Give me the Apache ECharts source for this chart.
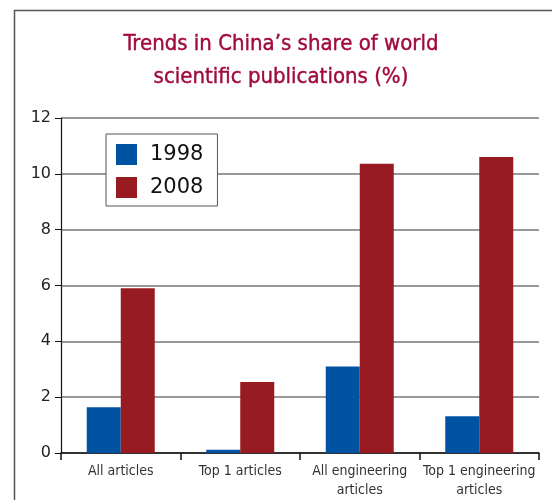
<!DOCTYPE html>
<html><head><meta charset="utf-8">
<script src="https://cdn.jsdelivr.net/npm/echarts@6/dist/echarts.min.js"></script>
<style>html,body{margin:0;padding:0;background:#fff}#c{width:552px;height:500px}</style>
</head><body><div id="c"></div>
<script>
const categories = ['All articles', 'Top 1 articles', 'All engineering\narticles', 'Top 1 engineering\narticles'];
const values1998 = [1.64, 0.12, 3.1, 1.32];
const values2008 = [5.9, 2.54, 10.36, 10.6];
const yTicks = [0, 2, 4, 6, 8, 10, 12];

const chart = echarts.init(document.getElementById('c'));
chart.setOption({
  animation: false,
  graphic: [{
    type: 'rect', shape: { x: 14.5, y: 10.5, width: 600, height: 600 },
    style: { fill: 'none', stroke: '#555', lineWidth: 1.5 }, silent: true
  }],
  title: {
    text: "Trends in China’s share of world\nscientific publications (%)",
    left: 276, top: 23, textAlign: 'center',
    textStyle: { color: '#a00a3c', fontFamily: 'DejaVu Sans Condensed', fontWeight: 'normal', fontSize: 22, lineHeight: 33, textBorderColor: '#a00a3c', textBorderWidth: 0.4 }
  },
  legend: {
    data: ['1998', '2008'], orient: 'vertical', left: 106, top: 134,
    backgroundColor: '#fff', borderColor: '#555', borderWidth: 1, padding: [10, 14, 8, 10],
    itemWidth: 21, itemHeight: 21, itemGap: 12, icon: 'rect',
    textStyle: { fontSize: 21, color: '#111', fontFamily: 'DejaVu Sans', padding: [0, 0, 0, 8] }
  },
  grid: { left: 61, right: 13, top: 118, bottom: 46 },
  xAxis: {
    type: 'category', data: categories,
    axisLine: { lineStyle: { color: '#111', width: 1.5 } },
    axisTick: { show: true, length: 7, lineStyle: { color: '#111', width: 1.5 } },
    axisLabel: { interval: 0, color: '#333', fontSize: 14, fontFamily: 'DejaVu Sans Condensed', lineHeight: 19, margin: 9 }
  },
  yAxis: {
    type: 'value', min: yTicks[0], max: yTicks[yTicks.length - 1], interval: 2,
    axisLine: { show: true, lineStyle: { color: '#111', width: 1.2 } },
    axisTick: { show: true, length: 6, lineStyle: { color: '#111' } },
    axisLabel: { color: '#222', fontSize: 16, fontFamily: 'DejaVu Sans', margin: 10 },
    splitLine: { lineStyle: { color: '#777', width: 1.5 } }
  },
  series: [
    { name: '1998', type: 'bar', data: values1998, barWidth: 34, barGap: '0%', itemStyle: { color: '#0052a3' }, z: 3 },
    { name: '2008', type: 'bar', data: values2008, barWidth: 34, barGap: '0%', itemStyle: { color: '#971b20' }, z: 3 }
  ]
});
</script></body></html>
